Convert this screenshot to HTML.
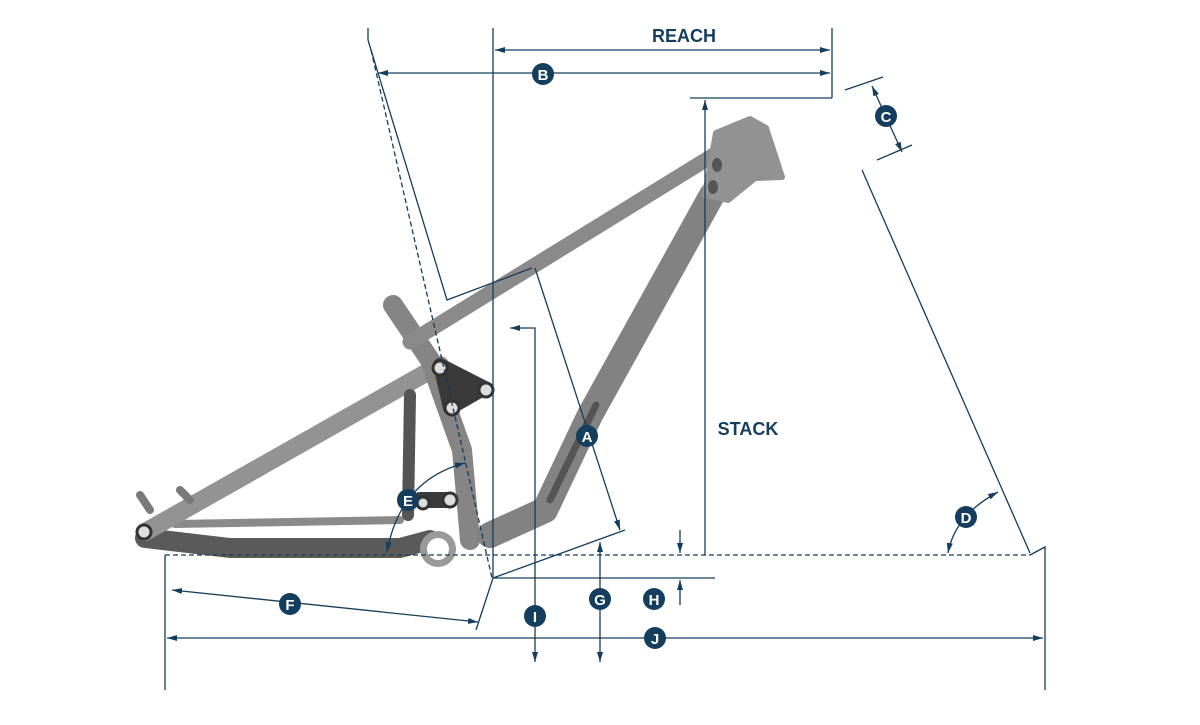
<!DOCTYPE html>
<html><head><meta charset="utf-8"><style>
html,body{margin:0;padding:0;background:#fff;}
svg{display:block;}
text{font-family:"Liberation Sans",sans-serif;font-weight:bold;}
</style></head><body>
<svg width="1200" height="725" viewBox="0 0 1200 725" xmlns="http://www.w3.org/2000/svg">
<defs>
<marker id="ar" viewBox="0 0 10 6" refX="10" refY="3" markerWidth="10" markerHeight="6" orient="auto-start-reverse" markerUnits="userSpaceOnUse"><path d="M0,0 L10,3 L0,6 z" fill="#143d5e"/></marker>
</defs>
<!-- frame -->
<g stroke-linecap="round" stroke-linejoin="round" fill="none">
<!-- chain stay -->
<path d="M145,538 L230,548 L400,548 L430,540" stroke="#5a5a5a" stroke-width="20"/>
<path d="M175,524 L400,520" stroke="#8a8a8a" stroke-width="8"/>
<!-- seat stay -->
<path d="M145,532 L440,365" stroke="#939393" stroke-width="18"/>
<path d="M410,395 L408,515" stroke="#555" stroke-width="12"/>
<!-- seat tube -->
<path d="M393,305 L430,360 L462,450 L470,540" stroke="#858585" stroke-width="20"/>
<!-- top tube -->
<path d="M410,342 L725,148" stroke="#8a8a8a" stroke-width="15"/>
<!-- down tube -->
<path d="M712,195 L590,415 L545,510 L490,535" stroke="#828282" stroke-width="26"/>
<path d="M596,405 L550,500" stroke="#555" stroke-width="7"/>
<!-- head tube -->
<polygon points="716,133 750,119 766,128 782,177 755,178 728,200 705,195" fill="#929292" stroke="#929292" stroke-width="6"/>
<!-- rocker -->
<path d="M440,365 L485,388 L450,408 z" fill="#3a3a3a" stroke="#3a3a3a" stroke-width="14"/>
<path d="M420,500 L450,500" stroke="#3a3a3a" stroke-width="16"/>
<path d="M180,490 L190,500 M140,495 L150,510" stroke="#7a7a7a" stroke-width="8"/>
</g>
<g fill="#555">
<ellipse cx="717" cy="165" rx="5" ry="7"/><ellipse cx="713" cy="187" rx="5" ry="7"/>
</g>
<g fill="#ddd" stroke="#333" stroke-width="3">
<circle cx="440" cy="368" r="7"/><circle cx="486" cy="390" r="7"/><circle cx="452" cy="408" r="7"/>
<circle cx="450" cy="500" r="7"/><circle cx="423" cy="503" r="6"/>
<circle cx="144" cy="532" r="7"/>
</g>
<circle cx="438" cy="549" r="18" fill="#9a9a9a"/><circle cx="438" cy="549" r="11" fill="#fff"/>
<!-- dimension lines -->
<g stroke="#143d5e" stroke-width="1.3" fill="none">
<line x1="368" y1="28" x2="368" y2="40"/>
<polyline points="368,40 447,300 532,268"/>
<line x1="371" y1="50" x2="492" y2="578" stroke-dasharray="5,3"/>
<line x1="493" y1="28" x2="493" y2="578"/>
<line x1="832" y1="28" x2="832" y2="98"/>
<line x1="690" y1="98" x2="832" y2="98"/>
<line x1="495" y1="50" x2="830" y2="50" marker-start="url(#ar)" marker-end="url(#ar)"/>
<line x1="378" y1="73" x2="830" y2="73" marker-start="url(#ar)" marker-end="url(#ar)"/>
<line x1="705" y1="555" x2="705" y2="100" marker-end="url(#ar)"/>
<line x1="845" y1="90" x2="883" y2="77"/>
<line x1="877" y1="160" x2="912" y2="145"/>
<line x1="872" y1="86" x2="902" y2="152" marker-start="url(#ar)" marker-end="url(#ar)"/>
<line x1="862" y1="170" x2="1030" y2="553"/>
<polyline points="1030,555 1045,547 1045,690"/>
<path d="M948,553 Q955,515 998,492" marker-start="url(#ar)" marker-end="url(#ar)"/>
<line x1="165" y1="555" x2="1030" y2="555" stroke-dasharray="5,3"/>
<line x1="165" y1="555" x2="165" y2="690"/>
<line x1="167" y1="638" x2="1043" y2="638" marker-end="url(#ar)" marker-start="url(#ar)"/>
<line x1="172" y1="590" x2="478" y2="622" marker-start="url(#ar)" marker-end="url(#ar)"/>
<line x1="476" y1="630" x2="493" y2="578"/>
<line x1="493" y1="578" x2="625" y2="530"/>
<line x1="493" y1="578" x2="715" y2="578"/>
<line x1="535" y1="268" x2="620" y2="530" marker-end="url(#ar)"/>
<polyline points="510,328 535,328 535,662" marker-start="url(#ar)" marker-end="url(#ar)"/>
<line x1="600" y1="542" x2="600" y2="662" marker-start="url(#ar)" marker-end="url(#ar)"/>
<line x1="680" y1="530" x2="680" y2="553" marker-end="url(#ar)"/>
<line x1="680" y1="605" x2="680" y2="580" marker-end="url(#ar)"/>
<path d="M465,463 Q400,480 387,552" marker-start="url(#ar)" marker-end="url(#ar)"/>
</g>
<text x="684" y="42" font-size="18" fill="#143d5e" text-anchor="middle">REACH</text>
<text x="748" y="435" font-size="18" fill="#143d5e" text-anchor="middle">STACK</text>
<g font-size="15" fill="#fff" text-anchor="middle">
<circle cx="543" cy="74" r="11" fill="#143d5e"/><text x="543" y="80">B</text>
<circle cx="886" cy="116" r="11" fill="#143d5e"/><text x="886" y="122">C</text>
<circle cx="587" cy="436" r="11" fill="#143d5e"/><text x="587" y="442">A</text>
<circle cx="966" cy="517" r="11" fill="#143d5e"/><text x="966" y="523">D</text>
<circle cx="408" cy="500" r="11" fill="#143d5e"/><text x="408" y="506">E</text>
<circle cx="290" cy="604" r="11" fill="#143d5e"/><text x="290" y="610">F</text>
<circle cx="600" cy="599" r="11" fill="#143d5e"/><text x="600" y="605">G</text>
<circle cx="654" cy="599" r="11" fill="#143d5e"/><text x="654" y="605">H</text>
<circle cx="535" cy="616" r="11" fill="#143d5e"/><text x="535" y="622">I</text>
<circle cx="655" cy="638" r="11" fill="#143d5e"/><text x="655" y="644">J</text>
</g>
</svg>
</body></html>
